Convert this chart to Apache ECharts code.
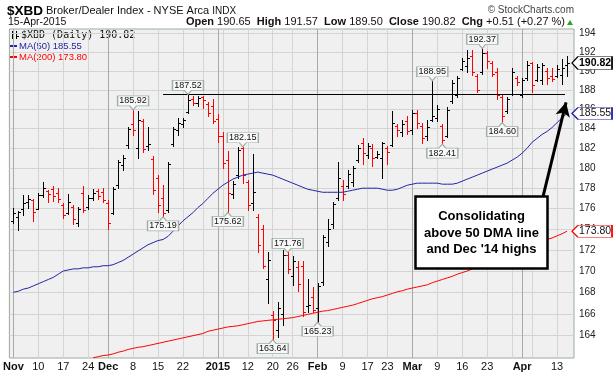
<!DOCTYPE html>
<html>
<head>
<meta charset="utf-8">
<script src="https://cdn.jsdelivr.net/npm/echarts@6/dist/echarts.min.js"></script>
<style>
	html, body { margin: 0; padding: 0; background: #fff; }
	#main { width: 613px; height: 376px; }
</style>
</head>
<body>
<div id="main"></div>
<script>
// trading days, 3-Nov-2014 .. 15-Apr-2015
var dates = [
	'2014-11-03','2014-11-04','2014-11-05','2014-11-06','2014-11-07','2014-11-10','2014-11-11','2014-11-12','2014-11-13','2014-11-14',
	'2014-11-17','2014-11-18','2014-11-19','2014-11-20','2014-11-21','2014-11-24','2014-11-25','2014-11-26','2014-11-28',
	'2014-12-01','2014-12-02','2014-12-03','2014-12-04','2014-12-05','2014-12-08','2014-12-09','2014-12-10','2014-12-11','2014-12-12',
	'2014-12-15','2014-12-16','2014-12-17','2014-12-18','2014-12-19','2014-12-22','2014-12-23','2014-12-24','2014-12-26',
	'2014-12-29','2014-12-30','2014-12-31',
	'2015-01-02','2015-01-05','2015-01-06','2015-01-07','2015-01-08','2015-01-09','2015-01-12','2015-01-13','2015-01-14','2015-01-15','2015-01-16',
	'2015-01-20','2015-01-21','2015-01-22','2015-01-23','2015-01-26','2015-01-27','2015-01-28','2015-01-29','2015-01-30',
	'2015-02-02','2015-02-03','2015-02-04','2015-02-05','2015-02-06','2015-02-09','2015-02-10','2015-02-11','2015-02-12','2015-02-13',
	'2015-02-17','2015-02-18','2015-02-19','2015-02-20','2015-02-23','2015-02-24','2015-02-25','2015-02-26','2015-02-27',
	'2015-03-02','2015-03-03','2015-03-04','2015-03-05','2015-03-06','2015-03-09','2015-03-10','2015-03-11','2015-03-12','2015-03-13',
	'2015-03-16','2015-03-17','2015-03-18','2015-03-19','2015-03-20','2015-03-23','2015-03-24','2015-03-25','2015-03-26','2015-03-27',
	'2015-03-30','2015-03-31','2015-04-01','2015-04-02','2015-04-06','2015-04-07','2015-04-08','2015-04-09','2015-04-10',
	'2015-04-13','2015-04-14','2015-04-15'
];

var opens = [
	174.8,175.2,176.0,176.6,176.8,176.0,177.3,177.7,177.9,177.5,
	176.3,175.6,176.2,174.6,177.5,176.2,177.0,177.7,177.6,
	176.5,175.6,178.3,180.3,182.3,184.5,182.0,184.8,182.2,180.9,
	179.0,177.0,175.9,182.4,183.8,184.5,185.7,187.0,186.6,
	187.2,186.5,186.3,
	185.0,183.2,180.8,177.4,179.3,182.0,178.6,176.5,175.2,174.0,169.2,
	165.9,164.5,166.0,171.5,169.5,170.4,170.5,166.7,167.6,
	166.5,169.0,172.8,174.5,177.0,178.2,178.2,178.6,180.8,182.5,
	181.3,182.0,181.1,181.0,182.0,182.3,184.3,183.6,184.8,
	183.8,185.6,184.3,183.2,184.9,185.1,184.3,183.2,186.8,187.5,
	190.2,190.5,191.6,189.4,189.9,191.9,190.8,189.9,187.2,185.8,
	187.6,189.2,187.5,189.2,190.8,189.0,189.0,190.0,189.5,
	189.5,189.6,190.65
];
var highs = [
	176.1,175.8,177.3,177.3,176.9,177.5,178.6,177.8,178.2,178.0,
	176.5,177.4,176.3,176.2,178.2,177.3,177.9,177.9,178.0,
	176.8,178.1,180.8,181.3,184.2,185.92,185.8,185.0,184.2,181.2,
	179.3,178.3,180.6,184.2,185.1,185.1,187.52,187.4,187.4,
	187.4,186.7,187.0,
	185.5,183.6,181.7,178.7,182.1,182.15,178.8,181.4,175.5,174.4,171.8,
	166.3,167.1,172.0,171.76,171.4,170.9,170.9,169.2,168.5,
	168.9,173.4,175.0,176.6,180.6,178.8,179.8,180.2,182.3,183.0,
	182.5,182.4,181.7,182.6,182.2,185.8,184.5,184.9,185.3,
	185.9,185.9,184.6,184.9,188.95,186.4,184.5,186.2,189.0,189.5,
	191.3,192.2,192.2,189.7,192.37,192.1,191.0,190.3,187.6,187.2,
	190.3,189.4,189.2,191.0,190.9,190.7,190.8,190.3,190.3,
	190.6,191.2,191.57
];
var lows = [
	174.6,173.9,175.4,176.1,174.8,176.0,177.1,176.6,176.7,176.6,
	175.1,175.5,174.5,174.3,175.7,176.0,176.8,176.9,176.6,
	174.0,175.5,178.0,179.8,182.0,183.3,181.0,181.6,181.8,177.4,
	175.7,175.19,175.7,182.2,183.3,184.2,185.6,186.4,186.3,
	186.1,185.3,184.6,
	182.6,180.0,175.62,177.0,179.0,178.5,175.9,175.9,171.8,170.3,167.0,
	163.64,163.9,165.0,169.8,168.7,168.1,165.8,166.2,166.2,
	165.23,168.7,172.4,174.1,176.8,176.8,178.0,178.2,180.6,180.4,
	181.0,180.2,181.0,179.0,180.4,182.2,183.2,183.2,183.4,
	183.4,184.1,182.5,182.8,184.8,184.8,182.41,183.1,186.6,187.2,
	190.1,189.9,189.6,187.8,189.7,190.3,189.5,187.0,184.60,185.6,
	187.5,188.5,187.2,189.0,187.8,188.9,188.6,188.6,188.9,
	189.3,188.6,189.50
];
var closes = [
	175.6,175.7,176.5,176.9,175.7,177.3,178.0,177.4,177.2,176.9,
	175.4,176.6,175.0,176.0,175.9,177.0,177.5,177.2,176.8,
	174.6,177.9,180.6,181.0,184.0,183.8,184.9,181.9,182.4,177.8,
	176.3,175.6,180.4,184.0,184.6,184.9,186.9,186.6,187.1,
	186.9,185.6,184.8,
	183.2,180.5,177.5,178.4,181.8,179.3,176.3,177.6,172.5,170.5,171.0,
	165.4,166.5,171.5,170.2,170.9,168.8,166.2,166.8,166.4,
	168.6,173.2,174.0,176.4,179.0,177.4,179.4,180.0,182.0,181.5,
	182.2,181.0,181.4,182.5,181.6,184.6,183.8,184.5,183.7,
	185.6,184.6,183.0,184.2,185.3,186.0,182.8,185.9,188.7,189.2,
	191.0,191.4,189.9,188.0,191.9,191.0,189.7,187.5,185.3,187.0,
	189.9,188.8,189.0,190.6,188.5,190.4,190.6,189.2,189.1,
	190.2,190.31,190.82
];

var ma50 = [
	168.0,168.1,168.3,168.4,168.6,168.8,169.0,169.2,169.4,169.7,
	170.0,170.1,170.2,170.2,170.3,170.3,170.4,170.4,170.5,
	170.5,170.6,170.8,171.0,171.3,171.6,171.9,172.2,172.5,172.7,
	172.9,173.0,173.3,173.8,174.3,174.8,175.2,175.6,176.1,
	176.5,177.0,177.5,
	177.9,178.3,178.6,178.9,179.1,179.3,179.4,179.5,179.6,179.5,179.4,
	179.3,179.1,178.9,178.7,178.5,178.3,178.1,177.9,177.8,
	177.7,177.6,177.6,177.6,177.6,177.6,177.7,177.8,177.9,178.0,
	178.0,178.0,178.0,177.9,177.8,177.8,177.9,178.1,178.3,
	178.4,178.5,178.5,178.5,178.5,178.5,178.4,178.4,178.4,178.5,
	178.7,178.9,179.1,179.3,179.5,179.7,179.9,180.1,180.3,180.5,
	180.8,181.1,181.5,182.0,182.6,183.0,183.4,183.7,184.1,
	184.6,185.1,185.55
];
var ma200 = [
	null,null,null,null,null,null,null,null,null,null,
	null,null,null,null,null,null,162.0,162.1,162.2,
	162.25,162.35,162.5,162.6,162.75,162.85,162.95,163.0,163.1,163.2,
	163.3,163.4,163.5,163.6,163.7,163.8,163.9,164.0,164.1,
	164.2,164.4,164.5,
	164.6,164.7,164.8,164.85,164.9,165.0,165.1,165.2,165.3,165.35,165.4,
	165.45,165.5,165.55,165.6,165.65,165.75,165.85,165.95,166.05,
	166.15,166.25,166.3,166.4,166.5,166.6,166.7,166.8,166.95,167.1,
	167.25,167.4,167.5,167.6,167.75,167.9,168.05,168.15,168.3,
	168.4,168.5,168.6,168.7,168.9,169.05,169.2,169.35,169.5,169.7,
	169.85,170.0,170.2,170.4,170.6,170.8,171.0,171.3,171.5,171.7,
	171.9,172.1,172.3,172.4,172.55,172.7,172.85,173.0,173.15,
	173.35,173.55,173.8
];

// axis ticks
var weekStarts = [0,5,10,15,19,24,29,34,38,42,47,52,56,61,66,71,75,80,85,90,95,100,104,109];
var monthStarts = [0,19,41,61,80,102];
var tickIdx = [0,5,10,15,19,24,29,34,41,47,52,56,61,66,71,75,80,85,90,95,102,109];
var tickLabels = ['Nov','10','17','24','Dec','8','15','22','2015','12','20','26','Feb','9','17','23','Mar','9','16','23','Apr','13'];
var boldLabels = ['Nov','Dec','2015','Feb','Mar','Apr'];
var priceTicks = [164,166,168,170,172,174,176,178,180,182,184,186,188,190,192,194];

// annotated highs / lows
var calloutHighs = [24,35,46,55,84,94];
var calloutLows = [30,43,52,61,86,98];
var resistIdx = 35;          // Dec '14 high
var resistSpan = [30, 110.6];
var arrowFrom = [106.2, 177.2];
var arrowTo = [110.8, 186.7];

var FONT = '"Liberation Sans", Arial, sans-serif';
var BLUE = '#2424a6';
var RED = '#ff0000';

var last = dates.length - 1;
var ohlc = dates.map(function (d, i) {
	var down = i > 0 && closes[i] < closes[i - 1] ? 1 : 0;
	return [i, opens[i], highs[i], lows[i], closes[i], down];
});
var ma50Data = ma50.map(function (v, i) { return [i, v]; });
var ma200Data = ma200.map(function (v, i) { return [i, v]; });

var chg = closes[last] - closes[last - 1];
var chgPct = chg / closes[last - 1] * 100;

var PIN_DOWN = 'path://M0,0L31,0L31,10L19,10L15.5,14L12,10L0,10Z';
var PIN_UP = 'path://M0,4L12,4L15.5,0L19,4L31,4L31,14L0,14Z';
var TAG = 'path://M0,6L6,0L40,0L40,12L6,12Z';

var callouts = [];
calloutHighs.forEach(function (i) {
	callouts.push({ coord: [i, highs[i]], value: highs[i], symbol: PIN_DOWN, symbolOffset: [0, -7], label: { offset: [0, -2] } });
});
calloutLows.forEach(function (i) {
	callouts.push({ coord: [i, lows[i]], value: lows[i], symbol: PIN_UP, symbolOffset: [0, 7], label: { offset: [0, 2] } });
});
callouts.push({
	coord: [last, closes[last]], value: closes[last], symbol: TAG, symbolSize: [40, 13], symbolOffset: [25, 0],
	itemStyle: { color: '#fff', borderColor: '#000', borderWidth: 1 },
	label: { offset: [3, 0], fontWeight: 'bold', fontSize: 10.5, color: '#000' }
});

function renderBar(params, api) {
	var i = api.value(0);
	var top = api.coord([i, api.value(2)]);
	var bot = api.coord([i, api.value(3)]);
	var x = Math.round(top[0]) + 0.5;
	var yO = Math.round(api.coord([i, api.value(1)])[1]) + 0.5;
	var yC = Math.round(api.coord([i, api.value(4)])[1]) + 0.5;
	var color = api.value(5) ? RED : '#000';
	var st = { stroke: color, lineWidth: 1 };
	return {
		type: 'group',
		children: [
			{ type: 'line', shape: { x1: x, y1: Math.round(top[1]), x2: x, y2: Math.round(bot[1]) + 1 }, style: st },
			{ type: 'line', shape: { x1: x - 2.5, y1: yO, x2: x, y2: yO }, style: st },
			{ type: 'line', shape: { x1: x, y1: yC, x2: x + 2.5, y2: yC }, style: st }
		]
	};
}

var myChart = echarts.init(document.getElementById('main'), null, { devicePixelRatio: 1, width: 613, height: 376 });

var option = {
	animation: false,
	backgroundColor: '#fff',
	grid: {
		left: 8, right: 39, top: 29, bottom: 18,
		show: true, backgroundColor: '#f0f0f0', borderColor: '#9aab9f', borderWidth: 1
	},
	xAxis: [
		{
			type: 'value', min: -0.8, max: 112.4,
			axisLine: { show: false },
			axisTick: { show: false, customValues: weekStarts },
			splitLine: { show: true, lineStyle: { color: '#d4d4d4', width: 1 } },
			axisLabel: {
				customValues: tickIdx, margin: 3, color: '#111', fontFamily: FONT, fontSize: 11,
				formatter: function (v) {
					var t = tickLabels[tickIdx.indexOf(Math.round(v))];
					if (t === undefined) return '';
					return boldLabels.indexOf(t) >= 0 ? '{b|' + t + '}' : t;
				},
				rich: { b: { fontWeight: 'bold', fontSize: 11, fontFamily: FONT, color: '#111' } }
			}
		},
		{
			type: 'value', min: -0.8, max: 112.4, position: 'bottom',
			axisLine: { show: false },
			axisTick: { show: false, customValues: monthStarts },
			axisLabel: { show: false },
			splitLine: { show: true, lineStyle: { color: '#a9a9a9', width: 1 } }
		}
	],
	yAxis: {
		type: 'log', logBase: 10, position: 'right', min: 161.98, max: 194.46,
		axisLine: { show: false },
		axisTick: { show: false, customValues: priceTicks },
		splitLine: { show: true, lineStyle: { color: '#d4d4d4', width: 1 } },
		axisLabel: { customValues: priceTicks, margin: 5, color: '#222', fontFamily: FONT, fontSize: 10, formatter: function (v) { return String(Math.round(v)); } }
	},
	series: [
		{
			type: 'line', name: 'MA(200)', data: ma200Data, showSymbol: false, silent: true,
			lineStyle: { color: RED, width: 1 },
			markPoint: {
				silent: true,
				data: [{
					coord: [last, ma200[last]], value: ma200[last], symbol: TAG, symbolSize: [40, 12], symbolOffset: [25, 0],
					itemStyle: { color: '#fff', borderColor: RED, borderWidth: 1 },
					label: { show: true, position: 'inside', offset: [3, 0], color: '#111', fontFamily: FONT, fontSize: 10.5, formatter: function (p) { return p.value.toFixed(2); } }
				}]
			}
		},
		{
			type: 'line', name: 'MA(50)', data: ma50Data, showSymbol: false, silent: true,
			lineStyle: { color: BLUE, width: 1 },
			markPoint: {
				silent: true,
				data: [{
					coord: [last, ma50[last]], value: ma50[last], symbol: TAG, symbolSize: [40, 12], symbolOffset: [25, 0],
					itemStyle: { color: '#fff', borderColor: BLUE, borderWidth: 1 },
					label: { show: true, position: 'inside', offset: [3, 0], color: '#111', fontFamily: FONT, fontSize: 10.5, formatter: function (p) { return p.value.toFixed(2); } }
				}]
			}
		},
		{
			type: 'custom', name: '$XBD', data: ohlc, renderItem: renderBar, silent: true,
			encode: { x: 0, y: [1, 2, 3, 4] },
			markLine: {
				silent: true, animation: false,
				label: { show: false },
				data: [
					[
						{ coord: [resistSpan[0], highs[resistIdx]], symbol: 'none', lineStyle: { color: '#000', width: 1, type: 'solid' } },
						{ coord: [resistSpan[1], highs[resistIdx]], symbol: 'none' }
					],
					[
						{ coord: arrowFrom, symbol: 'none', lineStyle: { color: '#000', width: 3, type: 'solid' } },
						{ coord: arrowTo, symbol: 'arrow', symbolSize: [11, 14] }
					]
				]
			},
			markPoint: {
				silent: true,
				symbolSize: [31, 14],
				itemStyle: { color: '#f8f8f8', borderColor: '#9eb0a6', borderWidth: 1 },
				label: {
					show: true, position: 'inside', color: '#111', fontFamily: FONT, fontSize: 9,
					formatter: function (p) { return p.value.toFixed(2); }
				},
				data: callouts
			}
		}
	],
	graphic: [
		{ type: 'text', x: 7, y: 11, style: { text: '$XBD', font: 'bold 13.5px ' + FONT, fill: '#000', verticalAlign: 'middle' } },
		{ type: 'text', x: 46, y: 11, style: { text: 'Broker/Dealer Index - NYSE Arca {s|INDX}', font: '11px ' + FONT, fill: '#111', verticalAlign: 'middle', rich: { s: { font: '10px ' + FONT, fill: '#111' } } } },
		{ type: 'text', x: 574, y: 10, style: { text: '\u00a9 StockCharts.com', font: '10px ' + FONT, fill: '#444', align: 'right', verticalAlign: 'middle' } },
		{ type: 'text', x: 8, y: 22, style: { text: dates[last].slice(8) + '-Apr-' + dates[last].slice(0, 4), font: '10.5px ' + FONT, fill: '#111', verticalAlign: 'middle' } },
		{
			type: 'text', x: 565, y: 22,
			style: {
				text: '{b|Open} ' + opens[last].toFixed(2) + '  {b|High} ' + highs[last].toFixed(2) + '  {b|Low} ' + lows[last].toFixed(2) +
					'  {b|Close} ' + closes[last].toFixed(2) + '  {b|Chg} ' + (chg >= 0 ? '+' : '') + chg.toFixed(2) + ' (' + (chg >= 0 ? '+' : '') + chgPct.toFixed(2) + ' %)',
				font: '11px ' + FONT, fill: '#111', align: 'right', verticalAlign: 'middle',
				rich: { b: { font: 'bold 11px ' + FONT, fill: '#111' } }
			}
		},
		{ type: 'polygon', shape: { points: [[567, 25], [573, 25], [570, 20]] }, style: { fill: '#22aa22' } },
		// legend
		{ type: 'line', shape: { x1: 12.5, y1: 31, x2: 12.5, y2: 39 }, style: { stroke: '#000', lineWidth: 1 } },
		{ type: 'line', shape: { x1: 10, y1: 33.5, x2: 12.5, y2: 33.5 }, style: { stroke: '#000', lineWidth: 1 } },
		{ type: 'line', shape: { x1: 16.5, y1: 31, x2: 16.5, y2: 39 }, style: { stroke: '#000', lineWidth: 1 } },
		{ type: 'line', shape: { x1: 16.5, y1: 36.5, x2: 19, y2: 36.5 }, style: { stroke: '#000', lineWidth: 1 } },
		{ type: 'text', x: 21, y: 35, style: { text: '$XBD (Daily) ' + closes[last].toFixed(2), font: '10px "DejaVu Sans Mono", monospace', fill: '#111', verticalAlign: 'middle' } },
		{ type: 'rect', shape: { x: 10, y: 45, width: 7, height: 2 }, style: { fill: BLUE } },
		{ type: 'text', x: 19, y: 46, style: { text: 'MA(50) ' + ma50[last].toFixed(2), font: '9.5px ' + FONT, fill: BLUE, align: 'left', verticalAlign: 'middle' } },
		{ type: 'rect', shape: { x: 10, y: 56, width: 7, height: 2 }, style: { fill: RED } },
		{ type: 'text', x: 19, y: 57, style: { text: 'MA(200) ' + ma200[last].toFixed(2), font: '9.5px ' + FONT, fill: RED, align: 'left', verticalAlign: 'middle' } },
		// note
		{ type: 'rect', z: 100, shape: { x: 415.5, y: 196.5, width: 132, height: 72 }, style: { fill: '#fff', stroke: '#000', lineWidth: 2.5 } },
		{ type: 'text', z: 101, x: 481.5, y: 233, style: { text: 'Consolidating\nabove 50 DMA line\nand Dec \'14 highs', font: 'bold 13px ' + FONT, lineHeight: 16.5, fill: '#000', align: 'center', verticalAlign: 'middle' } }
	]
};

option && myChart.setOption(option);
</script>
</body>
</html>
